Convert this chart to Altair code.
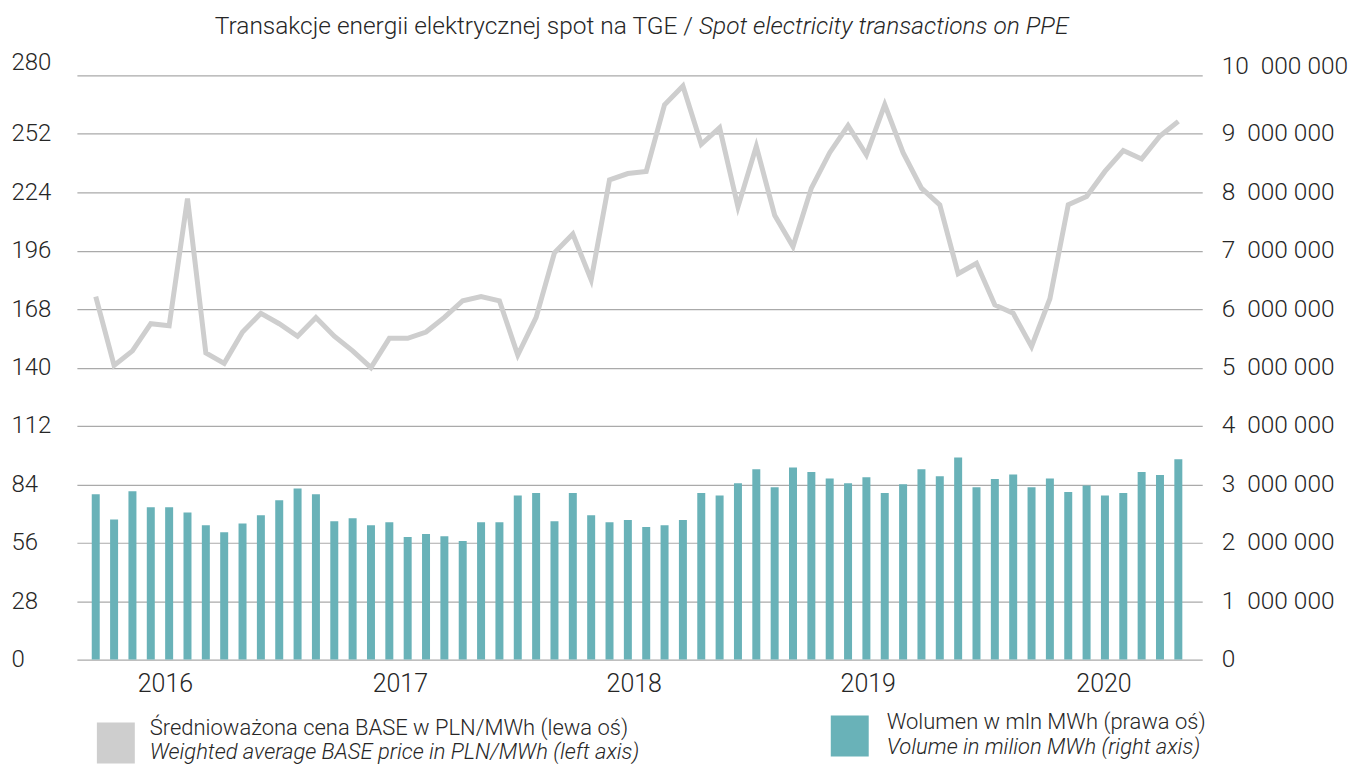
import altair as alt
import pandas as pd

# ---- data ----
price = [174, 141, 148, 161, 160, 221, 147, 142, 157, 166, 161, 155, 164, 155, 148,
         140, 154, 154, 157, 164, 172, 174, 172, 146, 164, 195, 204, 182, 230, 233,
         234, 266, 275, 247, 255, 217, 246, 213, 198, 226, 243, 256, 242, 266, 243,
         226, 218, 185, 190, 170, 166, 150, 173, 218, 222, 234, 244, 240, 251, 258]
volume_mln = [2.83, 2.40, 2.88, 2.61, 2.61, 2.52, 2.30, 2.18, 2.33, 2.47, 2.73, 2.93,
              2.83, 2.37, 2.42, 2.30, 2.35, 2.10, 2.15, 2.11, 2.03, 2.35, 2.35, 2.81,
              2.85, 2.37, 2.85, 2.47, 2.35, 2.39, 2.27, 2.30, 2.39, 2.85, 2.81, 3.02,
              3.26, 2.95, 3.29, 3.21, 3.10, 3.02, 3.12, 2.85, 3.00, 3.26, 3.14, 3.46,
              2.95, 3.09, 3.17, 2.95, 3.10, 2.87, 2.98, 2.81, 2.85, 3.21, 3.16, 3.43]
month_index = list(range(len(price)))
year_labels = ["2016", "2017", "2018", "2019", "2020"]
year_label_pos = [3.8, 16.6, 29.35, 42.1, 54.95]
left_ticks = [0, 28, 56, 84, 112, 140, 168, 196, 224, 252, 280]
right_ticks = [0, 1e6, 2e6, 3e6, 4e6, 5e6, 6e6, 7e6, 8e6, 9e6, 10e6]

title_pl = "Transakcje energii elektrycznej spot na TGE /"
title_en = "Spot electricity transactions on PPE"
leg_price = ["Średnioważona cena BASE w PLN/MWh (lewa oś)",
             "Weighted average BASE price in PLN/MWh (left axis)"]
leg_vol = ["Wolumen w mln MWh (prawa oś)",
           "Volume in milion MWh (right axis)"]

GRAY = "#cecece"
TEAL = "#69b2b8"
TXT = "#262626"
FONT = "Roboto"

df = pd.DataFrame({"m": month_index, "price": price,
                   "vol": [v * 1e6 for v in volume_mln]})
years = pd.DataFrame({"pos": year_label_pos, "label": year_labels})
one = pd.DataFrame({"a": [0]})

xscale = alt.Scale(domain=[-0.755, 60.03], nice=False, zero=False)

bars = alt.Chart(df).mark_bar(size=8, color=TEAL).encode(
    x=alt.X("m:Q", scale=xscale, axis=None),
    y=alt.Y("vol:Q", scale=alt.Scale(domain=[0, 10e6], nice=False),
            axis=alt.Axis(orient="right", values=right_ticks, grid=False,
                          labelAlign="left", labelPadding=19, labelFontSize=24.5,
                          labelOffset={"condition": {"test": "datum.value == 10000000", "value": -9}, "value": 0},
                          labelExpr="datum.value == 0 ? '0' : (datum.value/1000000) + '\u00a0\u00a0000\u00a0000'"),
            title=None),
)

line = alt.Chart(df).mark_line(color=GRAY, strokeWidth=5).encode(
    x=alt.X("m:Q", scale=xscale, axis=None),
    y=alt.Y("price:Q", scale=alt.Scale(domain=[0, 280], nice=False),
            axis=alt.Axis(orient="left", values=left_ticks, grid=True,
                          labelAlign="left", labelPadding=66, labelFontSize=24,
                          labelOffset={"condition": {"test": "datum.value == 280", "value": -13}, "value": 0}),
            title=None),
)

year_text = alt.Chart(years).mark_text(font=FONT, fontWeight=300, fontSize=25,
                                       color=TXT, baseline="middle", align="center").encode(
    x=alt.X("pos:Q", scale=xscale, axis=None),
    y=alt.value(609),
    text="label:N",
)

def txt(s, x, y, size=22, italic=False, align="left"):
    return alt.Chart(one).mark_text(
        text=s, font=FONT, fontWeight=300, fontSize=size, color=TXT,
        fontStyle="italic" if italic else "normal", align=align, baseline="middle"
    ).encode(x=alt.value(x), y=alt.value(y))

def box(x1, x2, y1, y2, color):
    return alt.Chart(one).mark_rect(color=color).encode(
        x=alt.value(x1), x2=alt.value(x2), y=alt.value(y1), y2=alt.value(y2))

decor = alt.layer(
    txt(title_pl, 617, -49, size=24.5, align="right"),
    txt(title_en, 623, -49, size=24.5, italic=True),
    box(20, 58, 648, 689, GRAY),
    txt(leg_price[0], 73, 654),
    txt(leg_price[1], 73, 678, italic=True),
    box(755, 793, 641, 682, TEAL),
    txt(leg_vol[0], 811, 648),
    txt(leg_vol[1], 811, 673, italic=True),
)

chart = alt.layer(bars, line, year_text, decor).resolve_scale(y="independent").properties(
    width=1127, height=585,
    autosize=alt.AutoSizeParams(type="none"),
    padding={"left": 69, "top": 67, "right": 150, "bottom": 106},
).configure_view(stroke=None).configure_axis(
    labelFont=FONT, labelFontWeight=300, labelColor=TXT, domain=False, ticks=False,
    gridColor="#aaaaaa", gridWidth=1.2,
)

chart.save("out.html", embed_options={"renderer": "svg", "actions": False})
